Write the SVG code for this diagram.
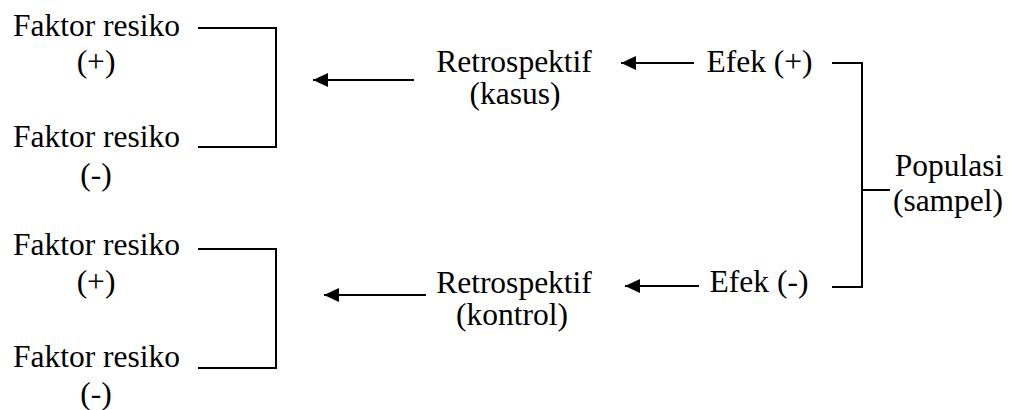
<svg xmlns="http://www.w3.org/2000/svg" width="1010" height="410" viewBox="0 0 1010 410">
<style>
text{font-family:"Liberation Serif","Times New Roman",serif;font-size:31.5px;fill:#000;text-anchor:middle}
.c{fill:none;stroke:#000;stroke-width:2}
</style>
<defs>
<marker id="ah" markerUnits="userSpaceOnUse" markerWidth="17" markerHeight="16" refX="15" refY="7" orient="auto">
<path d="M0,0 L15,7 L0,14 z" fill="#000"/>
</marker>
</defs>
<rect width="1010" height="410" fill="#fff"/>
<g id="connectors">
<path class="c" d="M198,28 H276 V147 H198"/>
<path class="c" d="M198,249 H276 V368 H198"/>
<line class="c" x1="414" y1="80" x2="313" y2="80" marker-end="url(#ah)"/>
<line class="c" x1="694" y1="63" x2="621" y2="63" marker-end="url(#ah)"/>
<line class="c" x1="699" y1="286" x2="625" y2="286" marker-end="url(#ah)"/>
<line class="c" x1="426" y1="295" x2="324" y2="295" marker-end="url(#ah)"/>
<path class="c" d="M832,63 H862 V287 H832"/>
<path class="c" d="M862,190 H890"/>
</g>
<g id="faktor-plus-1"><text x="96.5" y="36">Faktor resiko</text><text x="96" y="72">(+)</text></g>
<g id="faktor-minus-1"><text x="96.5" y="147">Faktor resiko</text><text x="96" y="185">(-)</text></g>
<g id="faktor-plus-2"><text x="96.5" y="255">Faktor resiko</text><text x="96" y="292">(+)</text></g>
<g id="faktor-minus-2"><text x="96.5" y="367">Faktor resiko</text><text x="96" y="404">(-)</text></g>
<g id="retro-kasus"><text x="514" y="72">Retrospektif</text><text x="515" y="104">(kasus)</text></g>
<g id="retro-kontrol"><text x="514" y="293">Retrospektif</text><text x="512" y="325">(kontrol)</text></g>
<g id="efek-plus"><text x="759.5" y="72">Efek (+)</text></g>
<g id="efek-minus"><text x="759" y="292">Efek (-)</text></g>
<g id="populasi"><text x="949" y="176">Populasi</text><text x="948" y="211">(sampel)</text></g>
</svg>
